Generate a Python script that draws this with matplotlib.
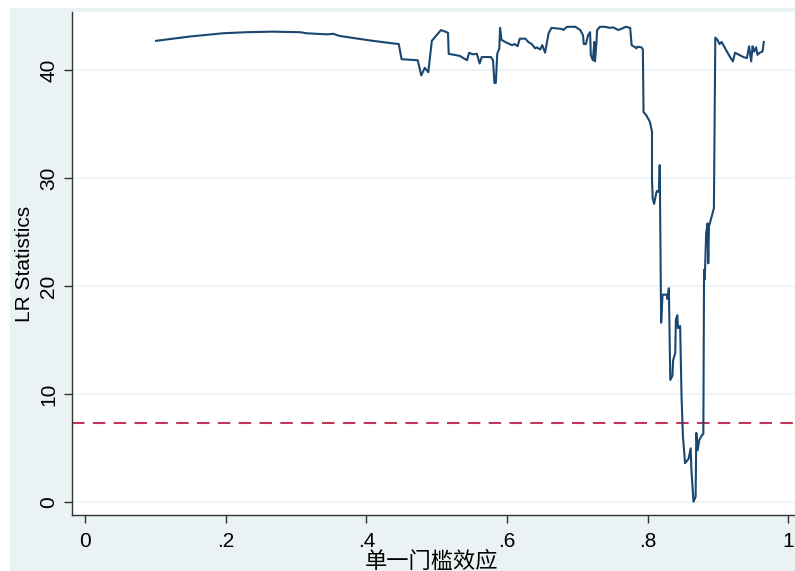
import matplotlib
matplotlib.use("Agg")
import matplotlib.pyplot as plt
from matplotlib.patches import Rectangle

# threshold values (gamma) and LR statistics
gamma = [
    0.101, 0.149, 0.196, 0.230, 0.267, 0.306, 0.315, 0.344, 0.353, 0.362,
    0.409, 0.446, 0.450, 0.473, 0.478, 0.483, 0.488, 0.493, 0.506, 0.516,
    0.517, 0.533, 0.543, 0.546, 0.551, 0.557, 0.561, 0.564, 0.577, 0.580,
    0.582, 0.584, 0.586, 0.589, 0.590, 0.592, 0.597, 0.607, 0.611, 0.615,
    0.618, 0.626, 0.630, 0.635, 0.640, 0.642, 0.647, 0.650, 0.654, 0.659,
    0.663, 0.678, 0.680, 0.685, 0.697, 0.704, 0.708, 0.709, 0.712, 0.715,
    0.718, 0.719, 0.722, 0.724, 0.725, 0.727, 0.728, 0.732, 0.739, 0.746,
    0.751, 0.758, 0.762, 0.769, 0.775, 0.777, 0.782, 0.784, 0.785, 0.791,
    0.793, 0.794, 0.798, 0.803, 0.806, 0.806, 0.807, 0.809, 0.812, 0.813,
    0.816, 0.817, 0.819, 0.821, 0.827, 0.828, 0.830, 0.832, 0.835, 0.836,
    0.839, 0.840, 0.842, 0.843, 0.846, 0.848, 0.850, 0.853, 0.858, 0.861,
    0.862, 0.865, 0.868, 0.869, 0.871, 0.873, 0.877, 0.879, 0.880, 0.881,
    0.883, 0.885, 0.886, 0.887, 0.894, 0.896, 0.899, 0.902, 0.905, 0.910,
    0.917, 0.921, 0.924, 0.936, 0.941, 0.944, 0.945, 0.947, 0.949, 0.951,
    0.954, 0.956, 0.959, 0.963, 0.965,
]
lr_stat = [
    42.7, 43.1, 43.4, 43.5, 43.55, 43.5, 43.4, 43.3, 43.35, 43.15,
    42.7, 42.4, 41.0, 40.9, 39.5, 40.2, 39.8, 42.7, 43.7, 43.45,
    41.5, 41.3, 40.9, 41.6, 41.45, 41.5, 40.6, 41.2, 41.2, 40.9,
    38.8, 38.8, 41.5, 42.0, 43.9, 42.8, 42.6, 42.3, 42.4, 42.2,
    42.9, 42.9, 42.6, 42.4, 42.0, 42.1, 41.9, 42.3, 41.6, 43.4,
    43.9, 43.8, 43.7, 44.0, 44.0, 43.7, 43.2, 42.4, 42.4, 43.2,
    43.5, 41.4, 40.9, 42.6, 40.8, 42.5, 43.7, 44.0, 44.0, 43.9,
    43.95, 43.7, 43.8, 44.0, 43.9, 42.3, 42.1, 42.0, 42.15, 42.1,
    41.9, 36.1, 35.8, 35.2, 34.3, 29.8, 28.1, 27.6, 28.6, 28.8,
    28.7, 31.2, 16.6, 19.2, 19.2, 18.8, 19.8, 11.3, 11.7, 13.1,
    13.8, 16.9, 17.3, 16.1, 16.3, 9.75, 6.05, 3.6, 4.0, 4.97,
    3.0, 0.03, 0.5, 6.4, 4.8, 5.7, 6.2, 6.3, 21.5, 20.6,
    24.9, 25.8, 22.1, 25.5, 27.2, 43.0, 42.8, 42.4, 42.6, 42.0,
    41.2, 40.8, 41.6, 41.2, 41.1, 42.2, 41.7, 40.8, 42.2, 41.7,
    42.1, 41.4, 41.6, 41.7, 42.6,
]
crit_value = 7.35

x_ticks = [0, 0.2, 0.4, 0.6, 0.8, 1.0]
x_ticklabels = ["0", ".2", ".4", ".6", ".8", "1"]
y_ticks = [0, 10, 20, 30, 40]

W, H = 795, 571
fig = plt.figure(figsize=(W / 100, H / 100), dpi=100, facecolor="white")

# Stata-style light graph region behind the plot
fig.add_artist(Rectangle((10 / W, -0.1), 1.2, 1.1 - 8 / H,
                         transform=fig.transFigure, facecolor="#eaf2f3",
                         edgecolor="none", zorder=-10))

left, right, top, bottom = 72, 800, 12, 515
ax = fig.add_axes([left / W, 1 - bottom / H, (right - left) / W, (bottom - top) / H])
ax.set_zorder(1)
ax.set_facecolor("white")

ax.plot(gamma, lr_stat, color="#1a476f", linewidth=1.5, zorder=3)
ax.axhline(crit_value, color="#c0395a", linewidth=1.5, dashes=(6, 4), zorder=2)

ax.set_xlim(-0.0185, 1.0164)
ax.set_ylim(-1.2, 45.37)
ax.set_yticks(y_ticks)
ax.set_xticks(x_ticks)
ax.set_xticklabels(x_ticklabels)
ax.grid(axis="y", color="#eaf2f3", linewidth=1.2)
ax.set_axisbelow(True)

for s in ["top", "right"]:
    ax.spines[s].set_visible(False)
for s in ["left", "bottom"]:
    ax.spines[s].set_color("#333333")
    ax.spines[s].set_linewidth(1.0)

ax.tick_params(axis="both", direction="out", length=6, width=1, color="#333333",
               labelsize=15, pad=6)
ax.tick_params(axis="y", pad=4)
for lab in ax.get_xticklabels() + ax.get_yticklabels():
    lab.set_fontfamily("Liberation Sans")
for lab in ax.get_yticklabels():
    lab.set_rotation(90)
    lab.set_va("center")

ax.set_ylabel("LR Statistics", fontsize=15, family="Liberation Sans", va="center")
ax.yaxis.set_label_coords((25 - left) / (right - left), 0.5)
ax.set_xlabel("单一门槛效应", fontsize=16, family=["Noto Sans CJK SC", "DejaVu Sans"])
ax.xaxis.set_label_coords((432 - left) / (right - left), -(561 - bottom) / (bottom - top))
ax.xaxis.label.set_va("center")

fig.savefig("out.png", dpi=100, facecolor=fig.get_facecolor())
